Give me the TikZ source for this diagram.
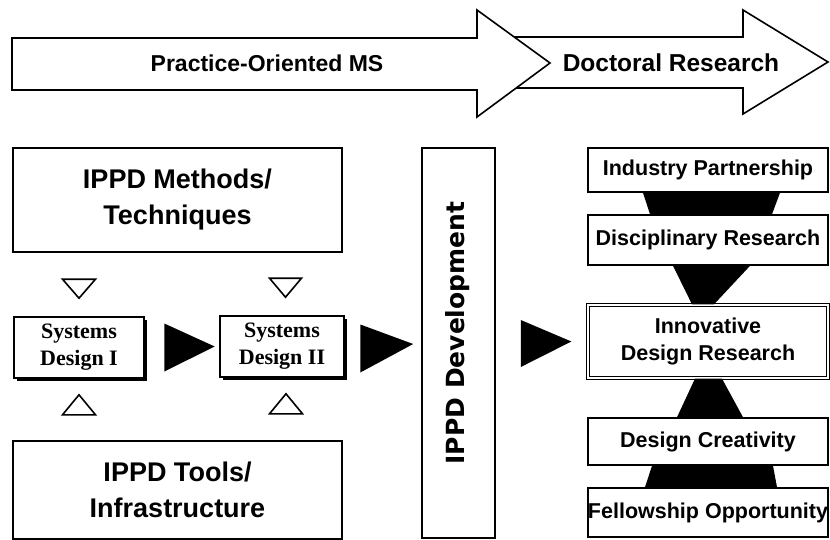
\documentclass[tikz,border=0pt]{standalone}
\usepackage{fontspec}
\setmainfont{Liberation Sans}
\newfontfamily\sysfont{Liberation Serif}
\newfontfamily\devfont{DejaVu Sans}
\usetikzlibrary{shadows}
\tikzset{
  box/.style={draw, line width=1.6pt, fill=white, align=center, inner sep=0pt},
  bigbox/.style={box, minimum width=329pt, font=\fontsize{27}{36}\selectfont\bfseries},
  sysbox/.style={box, minimum height=61pt, font=\sysfont\fontsize{22}{27}\selectfont\bfseries,
    general shadow={fill=black, shadow xshift=2.5pt, shadow yshift=-2.5pt}},
  rbox/.style={box, minimum width=240pt, font=\fontsize{21.5}{27}\selectfont\bfseries},
  bigarrow/.style={draw, line width=1.6pt, fill=white},
  opentri/.style={draw, line width=1.6pt, line join=miter},
}
\begin{document}
\begin{tikzpicture}[x=1pt, y=-1pt]
    \useasboundingbox (0,0) rectangle (830,540);
    \draw[bigarrow] (500,37) -- (743,37) -- (743,10) -- (828,62) -- (743,114) -- (743,88) -- (500,88) -- cycle;
    \draw[bigarrow] (12,38) -- (477,38) -- (477,10) -- (550,63) -- (477,117) -- (477,90) -- (12,90) -- cycle;
    \node[font=\fontsize{23}{27}\selectfont\bfseries] (ms) at (267,63) {Practice-Oriented MS};
    \node[font=\fontsize{24.5}{27}\selectfont\bfseries] (phd) at (671,63) {Doctoral Research};

    \node[bigbox, minimum height=104pt] (methods) at (177.5,200) {IPPD Methods/\\Techniques};
    \node[bigbox, minimum height=98pt] (tools) at (177.5,490) {IPPD Tools/\\Infrastructure};
    \node[sysbox, minimum width=130pt] (sys1) at (79,347.5) {Systems\\Design I};
    \node[sysbox, minimum width=124pt] (sys2) at (282,346.5) {Systems\\Design II};
    \node[box, minimum width=73pt, minimum height=390pt] (dev) at (458.5,343) {};
    \node[rotate=90, font=\devfont\fontsize{25}{28}\selectfont\bfseries] (devtext) at (458,333) {IPPD Development};

    \node[rbox, minimum height=44pt] (ind) at (708,170) {Industry Partnership};
    \node[rbox, minimum height=50pt] (dis) at (708,240) {Disciplinary Research};
    \node[rbox, minimum height=73pt, line width=1.3pt, double, double distance=2pt] (inn) at (708,341.5) {Innovative\\Design Research};
    \node[rbox, minimum height=47pt] (cre) at (708,441.5) {Design Creativity};
    \node[rbox, minimum height=49pt] (fel) at (708,512.5) {Fellowship Opportunity};

    \draw[opentri] ([xshift=-16.5pt, yshift=37pt]sys1.north) -- ([xshift=16.5pt, yshift=37pt]sys1.north) -- ([yshift=18pt]sys1.north) -- cycle;
    \draw[opentri] ([xshift=-12.5pt, yshift=37pt]sys2.north) -- ([xshift=19.5pt, yshift=37pt]sys2.north) -- ([xshift=3.5pt, yshift=18pt]sys2.north) -- cycle;
    \draw[opentri] ([xshift=-16.5pt, yshift=-36pt]sys1.south) -- ([xshift=16.5pt, yshift=-36pt]sys1.south) -- ([yshift=-16pt]sys1.south) -- cycle;
    \draw[opentri] ([xshift=-12.5pt, yshift=-36pt]sys2.south) -- ([xshift=20.5pt, yshift=-36pt]sys2.south) -- ([xshift=4pt, yshift=-16pt]sys2.south) -- cycle;

    \fill ([xshift=19.5pt, yshift=24pt]sys1.east) -- ([xshift=-4.5pt]sys2.west) -- ([xshift=19.5pt, yshift=-24pt]sys1.east) -- cycle;
    \fill ([xshift=15.5pt, yshift=22pt]sys2.east) -- ([xshift=-8pt, yshift=-1pt]dev.west) -- ([xshift=15.5pt, yshift=-26pt]sys2.east) -- cycle;
    \fill ([xshift=25pt, yshift=23pt]dev.east) -- ([xshift=-16pt]inn.west) -- ([xshift=25pt, yshift=-24pt]dev.east) -- cycle;

    \fill ([xshift=-65pt]ind.south) -- ([xshift=72pt]ind.south) -- ([xshift=64pt]dis.north) -- ([xshift=-58pt]dis.north) -- cycle;
    \fill ([xshift=-35pt]dis.south) -- ([xshift=42pt]dis.south) -- ([xshift=6pt]inn.north) -- ([xshift=-16pt]inn.north) -- cycle;
    \fill ([xshift=-13pt]inn.south) -- ([xshift=14pt]inn.south) -- ([xshift=35pt]cre.north) -- ([xshift=-31pt]cre.north) -- cycle;
    \fill ([xshift=-56pt]cre.south) -- ([xshift=65pt]cre.south) -- ([xshift=69pt]fel.north) -- ([xshift=-63pt]fel.north) -- cycle;
\end{tikzpicture}
\end{document}
